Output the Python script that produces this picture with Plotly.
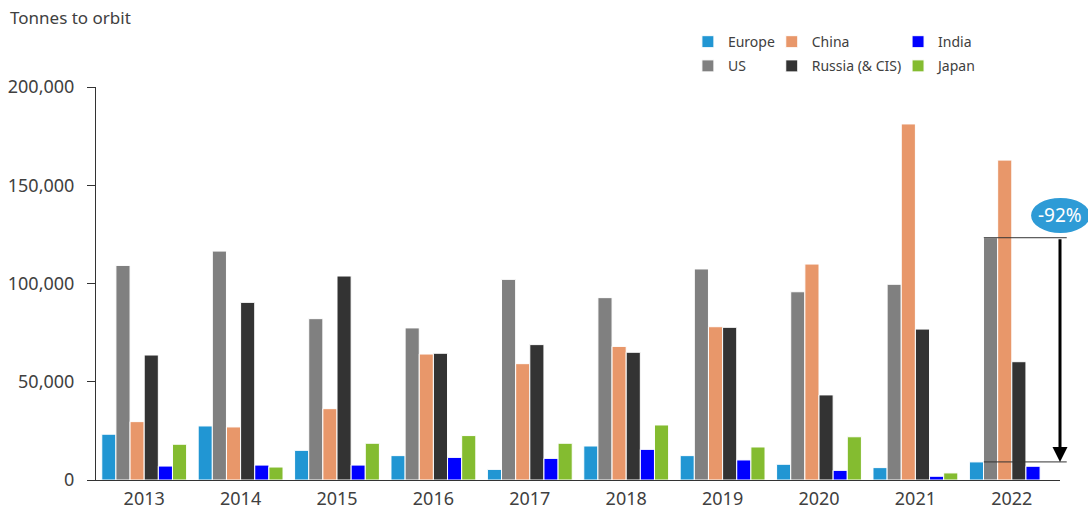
import plotly.graph_objects as go

years = ["2013", "2014", "2015", "2016", "2017", "2018", "2019", "2020", "2021", "2022"]
europe = [23300, 27500, 15100, 12400, 5400, 17300, 12400, 8000, 6300, 9200]
us = [109200, 116500, 82100, 77400, 102100, 92800, 107400, 95800, 99600, 123300]
china = [29700, 27000, 36300, 64100, 59200, 68000, 78000, 109900, 181200, 162800]
russia = [63600, 90400, 103800, 64500, 68900, 65000, 77700, 43300, 76800, 60200]
india = [7100, 7600, 7600, 11500, 11000, 15600, 10200, 4900, 1900, 7000]
japan = [18200, 6600, 18700, 22600, 18700, 28000, 16800, 22000, 3600, 0]

series = [
    ("Europe", europe, "#2196d3", "legend", 1),
    ("US", us, "#808080", "legend", 2),
    ("China", china, "#e8976a", "legend2", 1),
    ("Russia (& CIS)", russia, "#333333", "legend2", 2),
    ("India", india, "#0000ff", "legend3", 1),
    ("Japan", japan, "#84bc30", "legend3", 2),
]

FONT = "Noto Sans"
TXT = "#404040"

fig = go.Figure()
for name, vals, col, leg, rank in series:
    fig.add_trace(go.Bar(
        x=years, y=vals, name=name,
        marker=dict(color=col, line=dict(color="white", width=1)),
        legend=leg, legendrank=rank, legendgroup=name,
    ))

legend_common = dict(
    orientation="v", xanchor="left", yanchor="top",
    font=dict(family=FONT, size=14, color=TXT),
    bgcolor="rgba(0,0,0,0)", tracegroupgap=3,
)

fig.update_layout(
    width=1088, height=511,
    margin=dict(l=96, r=28, t=87, b=31, autoexpand=False),
    paper_bgcolor="white", plot_bgcolor="white",
    barmode="group", bargap=0.12, bargroupgap=0,
    font=dict(family=FONT, color=TXT),
    showlegend=True,
    legend=dict(x=0.614, y=1.155, **legend_common),
    legend2=dict(x=0.701, y=1.155, **legend_common),
    legend3=dict(x=0.832, y=1.155, **legend_common),
    xaxis=dict(
        showline=True, linecolor="#333333", linewidth=1,
        ticks="", tickfont=dict(family=FONT, size=18, color=TXT),
        ticklabelstandoff=2,
        showgrid=False, automargin=False,
    ),
    yaxis=dict(
        range=[0, 200000], tickvals=[0, 50000, 100000, 150000, 200000],
        ticktext=["0", "50,000", "100,000", "150,000", "200,000"],
        showline=True, linecolor="#333333", linewidth=1,
        ticks="outside", ticklen=8, tickcolor="#333333",
        tickfont=dict(family=FONT, size=18, color=TXT),
        ticklabelstandoff=9,
        showgrid=False, zeroline=False, automargin=False,
    ),
)

# y-axis title
fig.add_annotation(
    text="Tonnes to orbit", xref="paper", yref="paper",
    x=-0.0913, y=1.1756, xanchor="left", yanchor="middle",
    showarrow=False, font=dict(family=FONT, size=17, color=TXT),
)

us_last = us[-1]
eu_last = europe[-1]

# reference lines
for val in (us_last, eu_last):
    fig.add_shape(type="line", xref="paper", yref="y",
                  x0=0.921, x1=1.007, y0=val, y1=val,
                  line=dict(color="#333333", width=1))

# arrow
fig.add_annotation(
    x=1.0, y=eu_last, xref="paper", yref="y",
    ax=0, ay=us_last, axref="pixel", ayref="y",
    showarrow=True, arrowhead=2, arrowsize=1, arrowwidth=3,
    arrowcolor="black", text="",
)

# ellipse with percent
fig.add_shape(type="circle", xref="paper", yref="paper",
              x0=0.970, x1=1.031, y0=0.6285, y1=0.7176,
              fillcolor="#2e9bd6", line=dict(width=0), layer="above")
fig.add_annotation(
    text="-92%", xref="paper", yref="paper", x=1.0005, y=0.674,
    xanchor="center", yanchor="middle",
    showarrow=False, font=dict(family=FONT, size=19, color="white"),
)

fig.write_html(
    "out.html",
    config={"displayModeBar": False},
    post_script="document.body.style.margin='0';document.body.style.overflow='hidden';",
)
